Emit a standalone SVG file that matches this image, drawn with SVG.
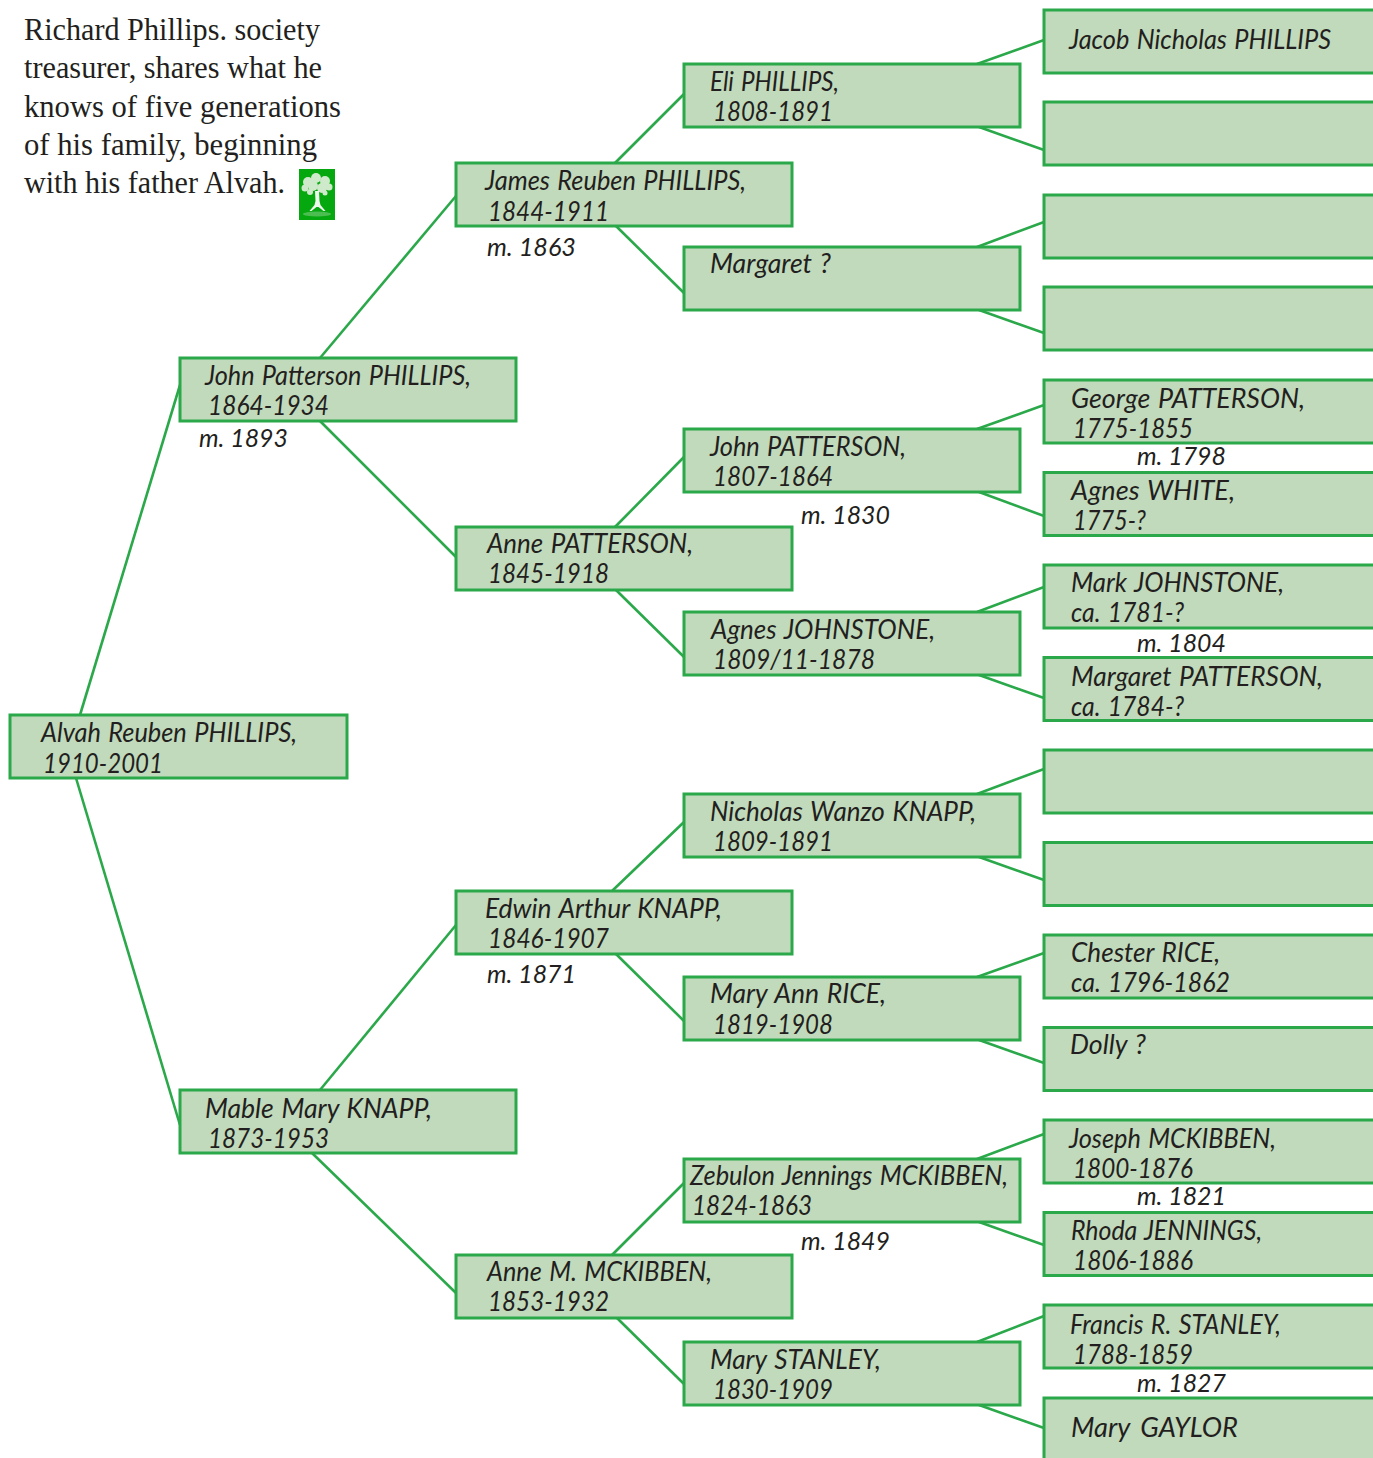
<svg xmlns="http://www.w3.org/2000/svg" width="1373" height="1458" viewBox="0 0 1373 1458">
<style>
.n{fill:#c1dabb;stroke:#2aa84a;stroke-width:3}
.c line{stroke:#2aa84a;stroke-width:2.6;fill:none}
text{fill:#231f20;font-family:"Lato","Open Sans",sans-serif;font-style:italic;font-size:26.5px;word-spacing:1.5px}
.m{font-size:26px;word-spacing:0}
.i{font-family:"Liberation Serif",serif;font-style:normal;font-size:31px;word-spacing:0}
</style>
<defs><filter id="b" x="-30%" y="-30%" width="160%" height="160%"><feGaussianBlur stdDeviation="0.6"/></filter></defs>
<rect width="1373" height="1458" fill="#fff"/>
<g id="connectors" class="c">
<line x1="80" y1="715" x2="180" y2="385"/><line x1="76" y1="778" x2="180" y2="1125"/>
<line x1="320" y1="358" x2="456" y2="196"/><line x1="320" y1="421" x2="456" y2="557"/>
<line x1="320" y1="1090" x2="456" y2="925"/><line x1="312" y1="1153" x2="456" y2="1293"/>
<line x1="615" y1="163" x2="684" y2="94"/><line x1="616" y1="226" x2="684" y2="293"/>
<line x1="615" y1="527" x2="684" y2="457"/><line x1="616" y1="590" x2="684" y2="657"/>
<line x1="612" y1="891" x2="684" y2="822"/><line x1="616" y1="954" x2="684" y2="1021"/>
<line x1="612" y1="1255" x2="684" y2="1183"/><line x1="617" y1="1318" x2="684" y2="1384"/>
<line x1="977" y1="64" x2="1044" y2="40"/><line x1="979" y1="127" x2="1044" y2="150"/>
<line x1="977" y1="247" x2="1044" y2="222"/><line x1="979" y1="310" x2="1044" y2="333"/>
<line x1="977" y1="429" x2="1044" y2="405"/><line x1="979" y1="492" x2="1044" y2="516"/>
<line x1="977" y1="612" x2="1044" y2="587"/><line x1="979" y1="675" x2="1044" y2="698"/>
<line x1="977" y1="794" x2="1044" y2="769"/><line x1="979" y1="857" x2="1044" y2="880"/>
<line x1="977" y1="977" x2="1044" y2="953"/><line x1="979" y1="1040" x2="1044" y2="1063"/>
<line x1="977" y1="1159" x2="1044" y2="1134"/><line x1="979" y1="1222" x2="1044" y2="1245"/>
<line x1="977" y1="1342" x2="1044" y2="1316"/><line x1="979" y1="1405" x2="1044" y2="1428"/>
</g>
<g id="intro">
<text class="i" x="24" y="40" textLength="296" lengthAdjust="spacingAndGlyphs">Richard Phillips. society</text>
<text class="i" x="24" y="78" textLength="298" lengthAdjust="spacingAndGlyphs">treasurer, shares what he</text>
<text class="i" x="24" y="117" textLength="317" lengthAdjust="spacingAndGlyphs">knows of five generations</text>
<text class="i" x="24" y="155" textLength="293" lengthAdjust="spacingAndGlyphs">of his family, beginning</text>
<text class="i" x="24" y="193" textLength="261" lengthAdjust="spacingAndGlyphs">with his father Alvah.</text>
</g>
<g id="tree-icon">
<rect x="299" y="169" width="36" height="51" fill="#06a80f"/>
<g fill="#cfe9cb" filter="url(#b)">
<circle cx="308" cy="182" r="5"/><circle cx="316" cy="178" r="5"/><circle cx="325" cy="181" r="5"/><circle cx="329" cy="187" r="3.5"/><circle cx="305" cy="188" r="3.5"/><circle cx="313" cy="186" r="5"/><circle cx="322" cy="188" r="5"/><circle cx="310" cy="192" r="3"/><circle cx="325" cy="193" r="2.5"/>
<path d="M315 191h4l0.5 10 1 4 5 6h-2l-5-4-2 0-5 4h-2l5-6 1-4z" fill="#eef8ec"/>
<ellipse cx="317" cy="214" rx="14" ry="2.5" opacity=".35"/>
</g>
</g>
<g id="alvah"><rect class="n" x="10" y="715" width="337" height="63"/><text x="41" y="742" textLength="256" lengthAdjust="spacingAndGlyphs">Alvah Reuben PHILLIPS,</text><text x="43" y="773" textLength="120" lengthAdjust="spacingAndGlyphs">1910-2001</text></g>
<g id="john-patterson-phillips"><rect class="n" x="180" y="358" width="336" height="63"/><text x="205" y="385" textLength="266" lengthAdjust="spacingAndGlyphs">John Patterson PHILLIPS,</text><text x="208" y="415" textLength="121" lengthAdjust="spacingAndGlyphs">1864-1934</text><text class="m" x="199" y="447" textLength="89" lengthAdjust="spacingAndGlyphs">m. 1893</text></g>
<g id="mable"><rect class="n" x="180" y="1090" width="336" height="63"/><text x="205" y="1118" textLength="227" lengthAdjust="spacingAndGlyphs">Mable Mary KNAPP,</text><text x="208" y="1148" textLength="121" lengthAdjust="spacingAndGlyphs">1873-1953</text></g>
<g id="james"><rect class="n" x="456" y="163" width="336" height="63"/><text x="485" y="190" textLength="261" lengthAdjust="spacingAndGlyphs">James Reuben PHILLIPS,</text><text x="488" y="221" textLength="121" lengthAdjust="spacingAndGlyphs">1844-1911</text><text class="m" x="487" y="256" textLength="89" lengthAdjust="spacingAndGlyphs">m. 1863</text></g>
<g id="anne-patterson"><rect class="n" x="456" y="527" width="336" height="63"/><text x="487" y="553" textLength="206" lengthAdjust="spacingAndGlyphs">Anne PATTERSON,</text><text x="488" y="583" textLength="121" lengthAdjust="spacingAndGlyphs">1845-1918</text></g>
<g id="edwin"><rect class="n" x="456" y="891" width="336" height="63"/><text x="485" y="918" textLength="237" lengthAdjust="spacingAndGlyphs">Edwin Arthur KNAPP,</text><text x="488" y="948" textLength="121" lengthAdjust="spacingAndGlyphs">1846-1907</text><text class="m" x="487" y="983" textLength="89" lengthAdjust="spacingAndGlyphs">m. 1871</text></g>
<g id="anne-mckibben"><rect class="n" x="456" y="1255" width="336" height="63"/><text x="487" y="1281" textLength="225" lengthAdjust="spacingAndGlyphs">Anne M. MCKIBBEN,</text><text x="488" y="1311" textLength="121" lengthAdjust="spacingAndGlyphs">1853-1932</text></g>
<g id="eli"><rect class="n" x="684" y="64" width="336" height="63"/><text x="710" y="91" textLength="129" lengthAdjust="spacingAndGlyphs">Eli PHILLIPS,</text><text x="713" y="121" textLength="120" lengthAdjust="spacingAndGlyphs">1808-1891</text></g>
<g id="margaret"><rect class="n" x="684" y="247" width="336" height="63"/><text x="710" y="273" textLength="121" lengthAdjust="spacingAndGlyphs">Margaret ?</text></g>
<g id="john-patterson"><rect class="n" x="684" y="429" width="336" height="63"/><text x="710" y="456" textLength="196" lengthAdjust="spacingAndGlyphs">John PATTERSON,</text><text x="713" y="486" textLength="120" lengthAdjust="spacingAndGlyphs">1807-1864</text><text class="m" x="801" y="524" textLength="89" lengthAdjust="spacingAndGlyphs">m. 1830</text></g>
<g id="agnes-johnstone"><rect class="n" x="684" y="612" width="336" height="63"/><text x="711" y="639" textLength="224" lengthAdjust="spacingAndGlyphs">Agnes JOHNSTONE,</text><text x="713" y="669" textLength="162" lengthAdjust="spacingAndGlyphs">1809/11-1878</text></g>
<g id="nicholas"><rect class="n" x="684" y="794" width="336" height="63"/><text x="710" y="821" textLength="266" lengthAdjust="spacingAndGlyphs">Nicholas Wanzo KNAPP,</text><text x="713" y="851" textLength="120" lengthAdjust="spacingAndGlyphs">1809-1891</text></g>
<g id="mary-ann-rice"><rect class="n" x="684" y="977" width="336" height="63"/><text x="710" y="1003" textLength="176" lengthAdjust="spacingAndGlyphs">Mary Ann RICE,</text><text x="713" y="1034" textLength="120" lengthAdjust="spacingAndGlyphs">1819-1908</text></g>
<g id="zebulon"><rect class="n" x="684" y="1159" width="336" height="63"/><text x="690" y="1185" textLength="318" lengthAdjust="spacingAndGlyphs">Zebulon Jennings MCKIBBEN,</text><text x="692" y="1215" textLength="120" lengthAdjust="spacingAndGlyphs">1824-1863</text><text class="m" x="801" y="1250" textLength="89" lengthAdjust="spacingAndGlyphs">m. 1849</text></g>
<g id="mary-stanley"><rect class="n" x="684" y="1342" width="336" height="63"/><text x="710" y="1369" textLength="171" lengthAdjust="spacingAndGlyphs">Mary STANLEY,</text><text x="713" y="1399" textLength="120" lengthAdjust="spacingAndGlyphs">1830-1909</text></g>
<g id="jacob"><rect class="n" x="1044" y="10" width="340" height="63"/><text x="1069" y="49" textLength="262" lengthAdjust="spacingAndGlyphs">Jacob Nicholas PHILLIPS</text></g>
<g id="blank-1"><rect class="n" x="1044" y="102" width="340" height="63"/></g>
<g id="blank-2"><rect class="n" x="1044" y="195" width="340" height="63"/></g>
<g id="blank-3"><rect class="n" x="1044" y="287" width="340" height="63"/></g>
<g id="george"><rect class="n" x="1044" y="380" width="340" height="63"/><text x="1071" y="408" textLength="234" lengthAdjust="spacingAndGlyphs">George PATTERSON,</text><text x="1073" y="438" textLength="120" lengthAdjust="spacingAndGlyphs">1775-1855</text><text class="m" x="1137" y="465" textLength="89" lengthAdjust="spacingAndGlyphs">m. 1798</text></g>
<g id="agnes-white"><rect class="n" x="1044" y="472.500" width="340" height="63"/><text x="1071" y="500" textLength="164" lengthAdjust="spacingAndGlyphs">Agnes WHITE,</text><text x="1073" y="530" textLength="73" lengthAdjust="spacingAndGlyphs">1775-?</text></g>
<g id="mark"><rect class="n" x="1044" y="565" width="340" height="63"/><text x="1071" y="592" textLength="213" lengthAdjust="spacingAndGlyphs">Mark JOHNSTONE,</text><text x="1071" y="622" textLength="113" lengthAdjust="spacingAndGlyphs">ca. 1781-?</text><text class="m" x="1137" y="652" textLength="89" lengthAdjust="spacingAndGlyphs">m. 1804</text></g>
<g id="margaret-patterson"><rect class="n" x="1044" y="657.500" width="340" height="63"/><text x="1071" y="686" textLength="252" lengthAdjust="spacingAndGlyphs">Margaret PATTERSON,</text><text x="1071" y="716" textLength="113" lengthAdjust="spacingAndGlyphs">ca. 1784-?</text></g>
<g id="blank-4"><rect class="n" x="1044" y="750" width="340" height="63"/></g>
<g id="blank-5"><rect class="n" x="1044" y="842.500" width="340" height="63"/></g>
<g id="chester"><rect class="n" x="1044" y="935" width="340" height="63"/><text x="1071" y="962" textLength="149" lengthAdjust="spacingAndGlyphs">Chester RICE,</text><text x="1071" y="992" textLength="159" lengthAdjust="spacingAndGlyphs">ca. 1796-1862</text></g>
<g id="dolly"><rect class="n" x="1044" y="1027.500" width="340" height="63"/><text x="1070" y="1054" textLength="76" lengthAdjust="spacingAndGlyphs">Dolly ?</text></g>
<g id="joseph"><rect class="n" x="1044" y="1120" width="340" height="63"/><text x="1069" y="1148" textLength="207" lengthAdjust="spacingAndGlyphs">Joseph MCKIBBEN,</text><text x="1073" y="1178" textLength="120" lengthAdjust="spacingAndGlyphs">1800-1876</text><text class="m" x="1137" y="1205" textLength="89" lengthAdjust="spacingAndGlyphs">m. 1821</text></g>
<g id="rhoda"><rect class="n" x="1044" y="1212.500" width="340" height="63"/><text x="1071" y="1240" textLength="191" lengthAdjust="spacingAndGlyphs">Rhoda JENNINGS,</text><text x="1073" y="1270" textLength="120" lengthAdjust="spacingAndGlyphs">1806-1886</text></g>
<g id="francis"><rect class="n" x="1044" y="1305" width="340" height="63"/><text x="1070" y="1334" textLength="211" lengthAdjust="spacingAndGlyphs">Francis R. STANLEY,</text><text x="1073" y="1364" textLength="120" lengthAdjust="spacingAndGlyphs">1788-1859</text><text class="m" x="1137" y="1392" textLength="89" lengthAdjust="spacingAndGlyphs">m. 1827</text></g>
<g id="gaylor"><rect class="n" x="1044" y="1398" width="340" height="80"/><text x="1071" y="1437" textLength="167" lengthAdjust="spacingAndGlyphs" style="word-spacing:4px">Mary GAYLOR</text></g>
</svg>
